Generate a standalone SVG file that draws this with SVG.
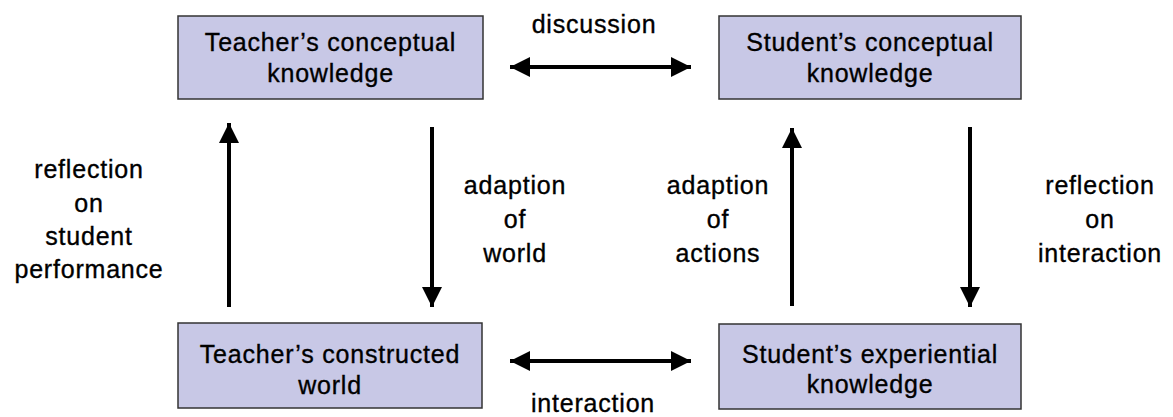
<svg xmlns="http://www.w3.org/2000/svg" width="1173" height="417" viewBox="0 0 1173 417">
<style>
.box{fill:#C8C8E6;stroke:#333333;stroke-width:1.5}
text{font-family:"Liberation Sans",Arial,sans-serif;font-size:25px;fill:#000;stroke:#000;stroke-width:0.35;text-anchor:middle;letter-spacing:0.8px}
.ar{stroke:#000;stroke-width:4;fill:none}
</style>
<defs>
<marker id="ah" markerUnits="userSpaceOnUse" markerWidth="20" markerHeight="20" refX="20" refY="10" orient="auto-start-reverse" viewBox="0 0 20 20">
<path d="M0,0 L20,10 L0,20 z" fill="#000"/>
</marker>
</defs>
<rect width="1173" height="417" fill="#fff"/>
<g id="teacher-conceptual">
<rect class="box" x="178" y="16" width="305" height="83"/>
<text x="330.5" y="51">Teacher’s conceptual</text>
<text x="330.5" y="82">knowledge</text>
</g>
<g id="student-conceptual">
<rect class="box" x="719" y="16" width="302" height="83"/>
<text x="870" y="51">Student’s conceptual</text>
<text x="870" y="82">knowledge</text>
</g>
<g id="teacher-world">
<rect class="box" x="178" y="323" width="304" height="85"/>
<text x="330" y="363">Teacher’s constructed</text>
<text x="330" y="394">world</text>
</g>
<g id="student-experiential">
<rect class="box" x="719" y="324" width="302" height="85"/>
<text x="870" y="363">Student’s experiential</text>
<text x="870" y="393">knowledge</text>
</g>
<g id="connectors">
<line class="ar" x1="510" y1="67" x2="691" y2="67" marker-start="url(#ah)" marker-end="url(#ah)"/>
<line class="ar" x1="510" y1="361" x2="691" y2="361" marker-start="url(#ah)" marker-end="url(#ah)"/>
<line class="ar" x1="229" y1="307" x2="229" y2="123" marker-end="url(#ah)"/>
<line class="ar" x1="432" y1="127" x2="432" y2="307" marker-end="url(#ah)"/>
<line class="ar" x1="792" y1="306" x2="792" y2="128" marker-end="url(#ah)"/>
<line class="ar" x1="970" y1="127" x2="970" y2="307" marker-end="url(#ah)"/>
</g>
<g id="labels">
<text x="594" y="33">discussion</text>
<text x="593" y="412">interaction</text>
<text x="89" y="178">reflection</text>
<text x="89" y="211.5">on</text>
<text x="89" y="244.5">student</text>
<text x="89" y="278">performance</text>
<text x="515" y="194">adaption</text>
<text x="515" y="228">of</text>
<text x="515" y="262">world</text>
<text x="718" y="194">adaption</text>
<text x="718" y="228">of</text>
<text x="718" y="262">actions</text>
<text x="1100" y="194">reflection</text>
<text x="1100" y="228">on</text>
<text x="1100" y="262">interaction</text>
</g>
</svg>
